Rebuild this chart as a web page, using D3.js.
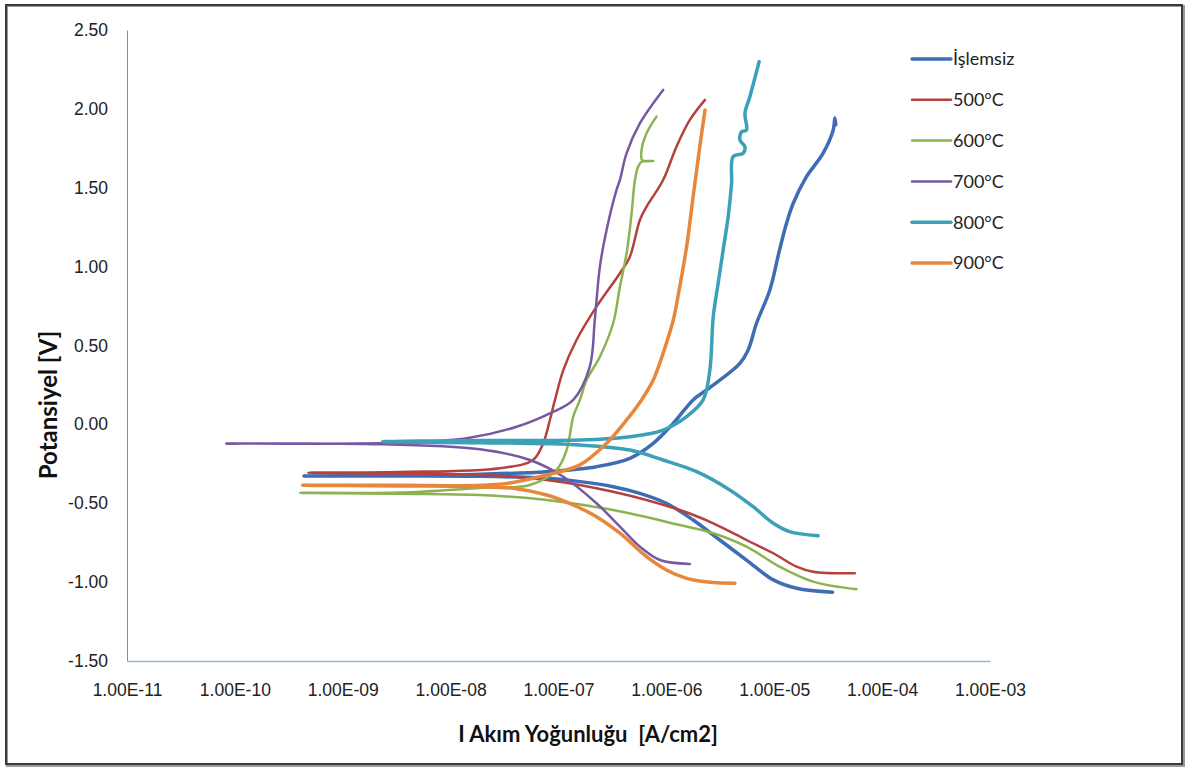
<!DOCTYPE html>
<html lang="tr">
<head>
    <meta charset="UTF-8">
    <title>Potansiyodinamik polarizasyon eğrileri</title>
    <script src="https://d3js.org/d3.v7.min.js"></script>
    <style>
        html, body { margin: 0; padding: 0; background: #fff; }
        svg { display: block; font-family: "Lato", "Liberation Sans", sans-serif; }
    </style>
</head>
<body>
<script>
    // Eksen etiketleri
    const xTickValues = [1e-11, 1e-10, 1e-9, 1e-8, 1e-7, 1e-6, 1e-5, 1e-4, 1e-3];
    const xTickLabels = ["1.00E-11", "1.00E-10", "1.00E-09", "1.00E-08", "1.00E-07", "1.00E-06", "1.00E-05", "1.00E-04", "1.00E-03"];
    const yTickValues = [-1.5, -1.0, -0.5, 0.0, 0.5, 1.0, 1.5, 2.0, 2.5];
    const seriesNames = ["İşlemsiz", "500°C", "600°C", "700°C", "800°C", "900°C"];

    // Her seri: [akım yoğunluğu (A/cm2), potansiyel (V)] - katodik uçtan başlayıp anodik uca
    const islemsiz = [
        [3.47e-5, -1.064], [1.61e-5, -1.039], [9.8e-6, -0.986], [5.53e-6, -0.860], [3.13e-6, -0.733],
        [1.77e-6, -0.606], [1.0e-6, -0.500], [5.68e-7, -0.437], [3.21e-7, -0.395], [1.58e-7, -0.363],
        [7.76e-8, -0.342], [1.87e-8, -0.329], [3.0e-9, -0.327], [4.37e-10, -0.327],
        [3.0e-9, -0.324], [1.87e-8, -0.316], [7.76e-8, -0.300], [2.25e-7, -0.268], [4.59e-7, -0.215],
        [7.55e-7, -0.120], [1.16e-6, 0.007], [1.77e-6, 0.155], [2.36e-6, 0.218], [4.80e-6, 0.387],
        [5.73e-6, 0.472], [6.85e-6, 0.641], [9.10e-6, 0.852], [1.12e-5, 1.106], [1.30e-5, 1.275],
        [1.50e-5, 1.402], [1.99e-5, 1.570], [2.84e-5, 1.719], [3.52e-5, 1.866], [3.65e-5, 1.942],
        [3.72e-5, 1.900]
    ];
    const c500 = [
        [5.58e-5, -0.944], [2.29e-5, -0.934], [1.61e-5, -0.902], [9.8e-6, -0.817], [5.53e-6, -0.733],
        [2.72e-6, -0.627], [1.33e-6, -0.543], [3.21e-7, -0.427], [7.76e-8, -0.352], [1.87e-8, -0.320],
        [3.39e-9, -0.312], [4.79e-10, -0.306],
        [3.39e-9, -0.302], [2.86e-8, -0.278], [5.79e-8, -0.226], [7.21e-8, -0.120], [8.32e-8, 0.028],
        [9.27e-8, 0.155], [1.11e-7, 0.345], [1.47e-7, 0.535], [2.25e-7, 0.746], [3.71e-7, 0.958],
        [4.59e-7, 1.063], [5.68e-7, 1.296], [6.55e-7, 1.380], [9.33e-7, 1.549], [1.24e-6, 1.760],
        [1.65e-6, 1.930], [2.28e-6, 2.057]
    ];
    const c600 = [
        [5.79e-5, -1.045], [2.29e-5, -0.997], [1.12e-5, -0.902], [5.53e-6, -0.775], [2.72e-6, -0.690],
        [1.33e-6, -0.638], [3.21e-7, -0.543], [7.76e-8, -0.479], [1.87e-8, -0.448], [3.39e-9, -0.440],
        [4.01e-10, -0.434],
        [3.39e-9, -0.432], [1.87e-8, -0.403], [5.43e-8, -0.384], [9.59e-8, -0.289], [1.19e-7, -0.162],
        [1.37e-7, 0.049], [1.58e-7, 0.155], [1.82e-7, 0.281], [2.42e-7, 0.429], [3.21e-7, 0.641],
        [3.71e-7, 0.873], [4.28e-7, 1.085], [4.76e-7, 1.338], [5.11e-7, 1.549], [5.48e-7, 1.634],
        [5.89e-7, 1.665], [7.55e-7, 1.670], [5.96e-7, 1.675], [5.89e-7, 1.739], [6.55e-7, 1.845],
        [8.09e-7, 1.951]
    ];
    const c700 = [
        [1.65e-6, -0.885], [8.71e-7, -0.860], [5.68e-7, -0.775], [3.71e-7, -0.648], [2.25e-7, -0.500],
        [1.11e-7, -0.332], [5.43e-8, -0.226], [1.87e-8, -0.158], [1.66e-9, -0.124], [8.28e-11, -0.122],
        [3.39e-9, -0.116], [1.41e-8, -0.088], [4.09e-8, -0.015], [8.32e-8, 0.070], [1.37e-7, 0.155],
        [1.95e-7, 0.366], [2.17e-7, 0.662], [2.42e-7, 1.000], [2.79e-7, 1.232], [3.45e-7, 1.486],
        [3.71e-7, 1.550], [4.28e-7, 1.719], [5.69e-7, 1.909], [9.33e-7, 2.120]
    ];
    const c800 = [
        [2.55e-5, -0.706], [1.39e-5, -0.680], [9.8e-6, -0.627], [6.37e-6, -0.522], [3.87e-6, -0.416],
        [1.91e-6, -0.300], [9.33e-7, -0.226], [4.59e-7, -0.163], [1.58e-7, -0.131], [1.87e-8, -0.116],
        [2.34e-9, -0.110],
        [1.87e-8, -0.102], [1.58e-7, -0.099], [4.59e-7, -0.078], [9.33e-7, -0.036], [1.54e-6, 0.049],
        [2.19e-6, 0.155], [2.53e-6, 0.345], [2.72e-6, 0.683], [3.02e-6, 0.894], [3.36e-6, 1.106],
        [3.74e-6, 1.317], [4.02e-6, 1.528], [4.16e-6, 1.697], [5.15e-6, 1.719], [5.35e-6, 1.760],
        [4.80e-6, 1.803], [4.98e-6, 1.855], [5.53e-6, 1.866], [5.35e-6, 1.972], [5.94e-6, 2.077],
        [7.24e-6, 2.299]
    ];
    const c900 = [
        [4.32e-6, -1.007], [2.72e-6, -1.003], [1.54e-6, -0.976], [1.0e-6, -0.923], [6.55e-7, -0.839],
        [3.71e-7, -0.690], [2.25e-7, -0.585], [1.37e-7, -0.511], [7.76e-8, -0.448], [3.80e-8, -0.405],
        [1.87e-8, -0.395], [3.39e-9, -0.390], [4.25e-10, -0.386],
        [3.39e-9, -0.386], [2.86e-8, -0.380], [7.76e-8, -0.321], [1.58e-7, -0.257], [2.79e-7, -0.120],
        [4.28e-7, 0.028], [5.89e-7, 0.155], [7.55e-7, 0.281], [1.0e-6, 0.514], [1.16e-6, 0.662],
        [1.33e-6, 0.873], [1.54e-6, 1.126], [1.77e-6, 1.443], [2.04e-6, 1.760], [2.28e-6, 1.993]
    ];
    const seriesData = [islemsiz, c500, c600, c700, c800, c900];

    const colors = ["#3E6DB3", "#B5413E", "#8DB350", "#7659A0", "#3BA1B8", "#E8863A"];
    const widths = [3.5, 2.5, 2.5, 2.5, 3.5, 3.5];

    const W = 1193, H = 773;
    const svg = d3.select("body").append("svg")
        .attr("width", W)
        .attr("height", H);

    svg.append("rect").attr("width", W).attr("height", H).attr("fill", "#fff");

    // çerçeve
    svg.append("rect")
        .attr("x", 7).attr("y", 6)
        .attr("width", 1177).attr("height", 760)
        .attr("fill", "none")
        .attr("stroke", "#9a9a9a")
        .attr("stroke-width", 2);
    svg.append("rect")
        .attr("x", 6).attr("y", 5)
        .attr("width", 1176).attr("height", 759)
        .attr("fill", "none")
        .attr("stroke", "#3a3a3a")
        .attr("stroke-width", 2);

    const x = d3.scaleLog().domain([1e-11, 1e-3]).range([127, 990]);
    const y = d3.scaleLinear().domain([-1.5, 2.5]).range([661, 30]);

    // y ekseni
    const yAxis = svg.append("g")
        .attr("transform", "translate(127,0)")
        .call(d3.axisLeft(y).tickValues(yTickValues).tickFormat(d => d.toFixed(2)).tickSize(0).tickPadding(19));
    yAxis.select(".domain").attr("stroke", "#8c8c8c").attr("stroke-width", 1);
    yAxis.selectAll("text").attr("font-size", 17.5).attr("fill", "#222");

    // x ekseni
    const xAxis = svg.append("g")
        .attr("transform", "translate(0,661)")
        .call(d3.axisBottom(x).tickValues(xTickValues).tickFormat((d, i) => xTickLabels[i]).tickSize(0).tickPadding(23));
    xAxis.select(".domain").attr("stroke", "#95B3D7").attr("stroke-width", 1.5);
    xAxis.selectAll("text").attr("font-size", 17.5).attr("fill", "#222");

    // eğriler
    const line = d3.line()
        .x(d => x(d[0]))
        .y(d => y(d[1]))
        .curve(d3.curveCatmullRom.alpha(0.5));

    svg.append("g").selectAll("path")
        .data(seriesData)
        .enter().append("path")
        .attr("d", line)
        .attr("fill", "none")
        .attr("stroke", (d, i) => colors[i])
        .attr("stroke-width", (d, i) => widths[i])
        .attr("stroke-linejoin", "round")
        .attr("stroke-linecap", "round");

    // lejant
    const legend = svg.append("g").selectAll("g")
        .data(seriesNames)
        .enter().append("g")
        .attr("transform", (d, i) => `translate(912,${59 + i * 40.8})`);
    legend.append("line")
        .attr("x1", 0).attr("x2", 39)
        .attr("stroke", (d, i) => colors[i])
        .attr("stroke-width", (d, i) => widths[i])
        .attr("stroke-linecap", "round");
    legend.append("text")
        .attr("x", 41)
        .attr("dy", "0.36em")
        .attr("font-size", 18)
        .attr("fill", "#222")
        .text(d => d);

    // eksen başlıkları
    svg.append("text")
        .attr("x", 588).attr("y", 742)
        .attr("text-anchor", "middle")
        .attr("font-size", 22)
        .attr("font-weight", "bold")
        .attr("fill", "#111")
        .text("I Akım Yoğunluğu\u00A0 [A/cm2]");
    svg.append("text")
        .attr("transform", "translate(57,405) rotate(-90)")
        .attr("text-anchor", "middle")
        .attr("font-size", 24)
        .attr("font-weight", "bold")
        .attr("fill", "#111")
        .text("Potansiyel [V]");
</script>
</body>
</html>
